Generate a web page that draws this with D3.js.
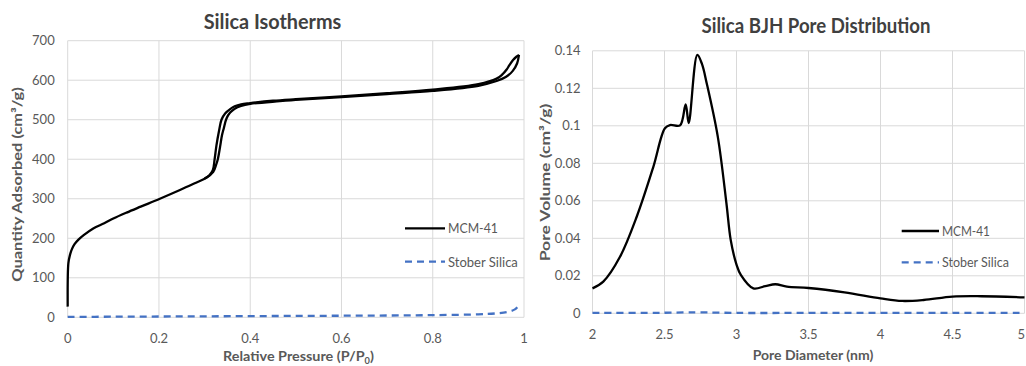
<!DOCTYPE html>
<html><head><meta charset="utf-8">
<script src="https://cdnjs.cloudflare.com/ajax/libs/d3/7.8.5/d3.min.js"></script>
<style>
html,body{margin:0;padding:0;background:#fff;}
svg{display:block;font-family:Lato,"Open Sans",sans-serif;}
</style></head><body>
<svg id="c" width="1026" height="366"></svg>
<script>
// ---- Data: Silica Isotherms ----
const isoXTicks = [0, 0.2, 0.4, 0.6, 0.8, 1];
const isoYTicks = [0, 100, 200, 300, 400, 500, 600, 700];
const mcmAdsorption = [
  [0,27],[0.0015,137],[0.005,158],[0.009,172],[0.015,185],[0.023,196],[0.035,208],[0.056,225],
  [0.08,238],[0.1,250],[0.129,265],[0.16,280],[0.202,300],[0.246,322],[0.28,340],[0.304,353],
  [0.319,368],[0.325,385],[0.329,400],[0.334,432],[0.338,460],[0.342,478],[0.348,503],[0.356,518],
  [0.366,528],[0.38,535],[0.4,540],[0.465,547],[0.509,551],[0.6,557],[0.7,565],[0.8,573],
  [0.9,586],[0.94,598],[0.96,608],[0.975,623],[0.985,643],[0.989,664]
];
const mcmDesorption = [
  [0.989,664],[0.984,660],[0.976,651],[0.968,638],[0.962,627],[0.952,614],[0.94,604],[0.9,590],
  [0.8,576],[0.7,567],[0.6,559],[0.5,552],[0.45,548],[0.4,542],[0.38,539],[0.366,534],
  [0.356,527],[0.345,516],[0.337,500],[0.332,474],[0.326,435],[0.322,400],[0.318,372],[0.31,359],[0.3,351]
];
const stoberIso = [
  [0,1],[0.1,1.5],[0.2,2],[0.3,2.5],[0.4,3],[0.5,3.5],[0.6,4],[0.7,4.5],[0.8,5.5],
  [0.9,7.5],[0.94,10],[0.965,14],[0.98,20],[0.99,32]
];

// ---- Data: Silica BJH Pore Distribution ----
const bjhXTicks = [2, 2.5, 3, 3.5, 4, 4.5, 5];
const bjhYTicks = [0, 0.02, 0.04, 0.06, 0.08, 0.1, 0.12, 0.14];
const mcmBjh = [
  [2.0,0.0133],[2.075,0.0169],[2.19,0.030],[2.307,0.0515],[2.422,0.078],[2.503,0.0987],
  [2.538,0.1004],[2.608,0.1002],[2.647,0.1114],[2.668,0.1015],[2.728,0.1378],[2.76,0.133],
  [2.793,0.1227],[2.87,0.0942],[2.93,0.0587],[2.96,0.039],[3.0,0.026],[3.03,0.0205],
  [3.117,0.0133],[3.2,0.0145],[3.27,0.0155],[3.35,0.0142],[3.5,0.0135],[3.75,0.0112],
  [4.0,0.008],[4.15,0.0066],[4.3,0.0071],[4.5,0.0089],[4.7,0.0091],[5.0,0.0085]
];
const stoberBjh = [
  [2.0,0.0002],[2.5,0.0003],[2.65,0.0005],[2.75,0.0005],[3.0,0.0002],[3.5,0.0002],[4.0,0.0002],[4.5,0.0002],[5.0,0.0002]
];

const legendNames = ["MCM-41", "Stober Silica"];
const mcmColor = "#000000", stoberColor = "#4472C4";
const gridColor = "#d9d9d9", tickColor = "#595959", titleColor = "#404040";
const W = 1026;

const svg = d3.select("#c");
svg.append("rect").attr("width",W).attr("height",366).attr("fill","#fff");

// place a text at (x,y) with rotation, stretched along its run to a target length
function fitText(g, x, y, rot, target, build, attrs) {
  const gg = g.append("g").attr("transform", `translate(${x},${y}) rotate(${rot})`);
  const t = gg.append("text").attr("text-anchor", attrs.anchor || "middle");
  Object.entries(attrs).forEach(([k,v]) => { if (k !== "anchor") t.attr(k, v); });
  build(t);
  const w = t.node().getBBox().width;
  if (target && w > 0) t.attr("transform", `scale(${target / w},1)`);
  return t;
}

function panel(cfg) {
  const g = svg.append("g");
  const x = d3.scaleLinear().domain(cfg.xDomain).range(cfg.xRange);
  const y = d3.scaleLinear().domain(cfg.yDomain).range(cfg.yRange);
  // grid
  g.selectAll(".vg").data(cfg.xTicks).join("line")
    .attr("x1", d => x(d)).attr("x2", d => x(d))
    .attr("y1", y.range()[0]).attr("y2", y.range()[1])
    .attr("stroke", gridColor).attr("stroke-width", 1);
  g.selectAll(".hg").data(cfg.yTicks).join("line")
    .attr("y1", d => y(d)).attr("y2", d => y(d))
    .attr("x1", x.range()[0]).attr("x2", x.range()[1])
    .attr("stroke", gridColor).attr("stroke-width", 1);
  // tick labels
  g.selectAll(".yt").data(cfg.yTicks).join("text")
    .attr("x", x.range()[0] - cfg.yLabGap).attr("y", d => y(d)).attr("dy","0.36em")
    .attr("text-anchor","end").attr("fill",tickColor).attr("font-size",cfg.tickSize)
    .text(cfg.yFmt);
  g.selectAll(".xt").data(cfg.xTicks).join("text")
    .attr("x", d => x(d)).attr("y", cfg.xLabY)
    .attr("text-anchor","middle").attr("fill",tickColor).attr("font-size",cfg.tickSize)
    .text(d => String(d))
    .each(function() {          // keep a label that would run past the page edge inside it
      const b = this.getBBox();
      if (b.x + b.width > W - 1) d3.select(this).attr("text-anchor","end").attr("x", W - 1);
    });
  // title
  fitText(g, cfg.titleX, cfg.titleY, 0, cfg.titleLen, t => t.text(cfg.title),
    {"font-weight":"bold","font-size":20,"fill":titleColor});
  // axis titles
  fitText(g, cfg.xTitleX, cfg.xTitleY, 0, cfg.xTitleLen, cfg.xTitle,
    {"font-weight":"bold","font-size":14,"fill":tickColor});
  fitText(g, cfg.yTitleX, cfg.yTitleY, -90, cfg.yTitleLen, t => t.text(cfg.yTitle),
    {"font-weight":"bold","font-size":14,"fill":tickColor});
  // lines
  const line = d3.line().x(d => x(d[0])).y(d => y(d[1])).curve(d3.curveCatmullRom.alpha(0.5));
  cfg.stober.forEach(s => g.append("path").attr("d", line(s)).attr("fill","none")
    .attr("stroke",stoberColor).attr("stroke-width",2.3).attr("stroke-dasharray","7,5"));
  cfg.mcm.forEach(s => g.append("path").attr("d", line(s)).attr("fill","none")
    .attr("stroke",mcmColor).attr("stroke-width",2.3));
  // legend
  legendNames.forEach((n,i) => {
    const yy = cfg.legY[i];
    g.append("line").attr("x1",cfg.legX0).attr("x2",cfg.legX1).attr("y1",yy).attr("y2",yy)
      .attr("stroke", i===0 ? mcmColor : stoberColor).attr("stroke-width",2.3)
      .attr("stroke-dasharray", i===0 ? null : "7,5");
    fitText(g, cfg.legX1 + 3, yy, 0, cfg.legLens[i], t => t.text(n),
      {"anchor":"start","dy":"0.36em","font-size":14,"fill":tickColor});
  });
}

panel({
  xDomain:[0,1], xRange:[67.7,524], yDomain:[0,700], yRange:[317.3,40.7],
  xTicks: isoXTicks, yTicks: isoYTicks, yFmt: d => String(d), yLabGap: 13,
  xLabY: 343, tickSize: 13, title: "Silica Isotherms", titleX: 272.5, titleY: 29, titleLen: 138,
  xTitleX: 298.5, xTitleY: 361, xTitleLen: 151,
  xTitle: t => { t.append("tspan").text("Relative Pressure (P/P");
                 t.append("tspan").attr("font-size",9).attr("dy",2.5).text("0");
                 t.append("tspan").attr("dy",-2.5).text(")"); },
  yTitle: "Quantity Adsorbed (cm³/g)", yTitleX: 22, yTitleY: 184.5, yTitleLen: 195,
  mcm: [mcmAdsorption, mcmDesorption], stober: [stoberIso],
  legX0: 405, legX1: 445, legY: [228.3, 261.7], legLens: [50, 70]
});

panel({
  xDomain:[2,5], xRange:[592.5,1024.5], yDomain:[0,0.14], yRange:[313.3,50.8],
  xTicks: bjhXTicks, yTicks: bjhYTicks, yFmt: d => String(+d.toFixed(2)), yLabGap: 12,
  xLabY: 339, tickSize: 13, title: "Silica BJH Pore Distribution", titleX: 816, titleY: 32.5, titleLen: 229,
  xTitleX: 813, xTitleY: 360, xTitleLen: 121,
  xTitle: t => t.text("Pore Diameter (nm)"),
  yTitle: "Pore Volume (cm³/g)", yTitleX: 550, yTitleY: 182.5, yTitleLen: 158,
  mcm: [mcmBjh], stober: [stoberBjh],
  legX0: 901.7, legX1: 939, legY: [231, 262.3], legLens: [48, 67]
});
</script>
</body></html>
